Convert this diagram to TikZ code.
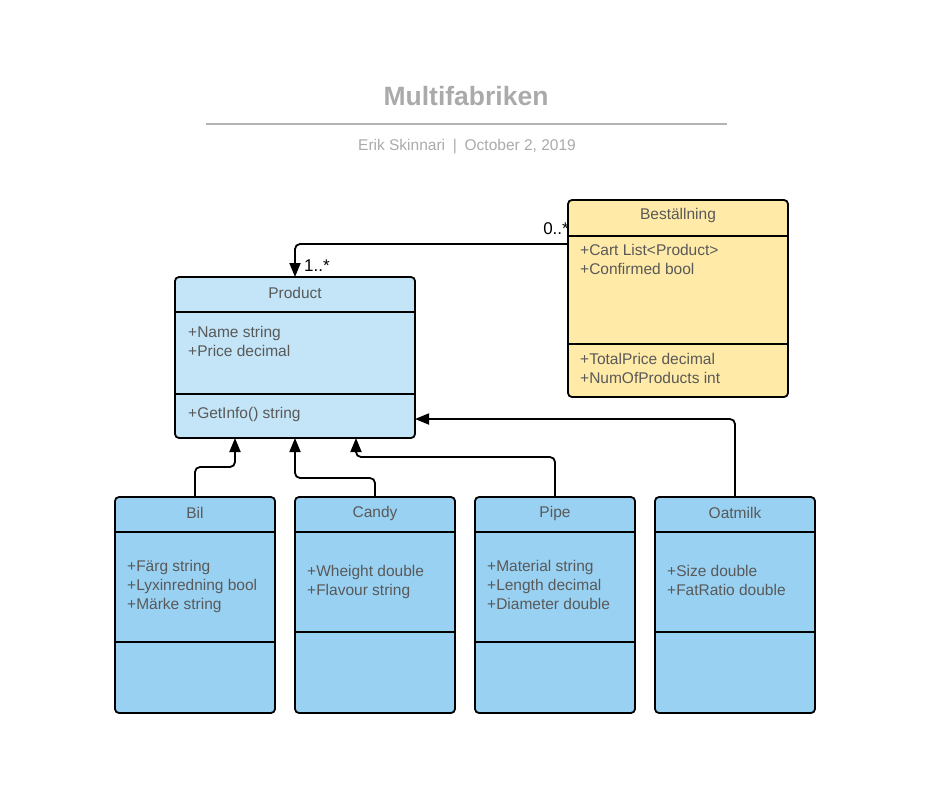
\documentclass[tikz,border=0pt]{standalone}
\usepackage{fontspec}
\setmainfont{Liberation Sans}
\usetikzlibrary{arrows.meta}
\definecolor{prodfill}{RGB}{195,229,247}
\definecolor{subfill}{RGB}{153,209,243}
\definecolor{ordfill}{RGB}{255,234,168}
\definecolor{txt}{RGB}{89,89,89}
\definecolor{titlegray}{RGB}{170,170,170}
\definecolor{rulegray}{RGB}{180,180,180}
\tikzset{
  classbox/.style={draw=black, line width=1.8pt, rounded corners=4pt, inner sep=0pt, outer sep=0pt, anchor=north west},
  divline/.style={draw=black, line width=1.8pt},
  hdr/.style={text=txt, font=\fontsize{15.5}{18}\selectfont, inner sep=0pt},
  attr/.style={text=txt, font=\fontsize{15.5}{18}\selectfont, inner sep=0pt, anchor=base west},
  mult/.style={text=black, font=\fontsize{17}{20}\selectfont, inner sep=0pt},
  conn/.style={draw=black, line width=1.8pt, rounded corners=5pt, -{Triangle[length=14pt,width=11pt]}},
}
\begin{document}
\begin{tikzpicture}[x=1pt,y=-1pt]
\useasboundingbox (0,0) rectangle (942,792);
% title
\node[text=titlegray, font=\bfseries\fontsize{26.5}{30}\selectfont, inner sep=0pt] (title) at (466,96) {Multifabriken};
\coordinate (ruleL) at (206,124);
\coordinate (ruleR) at (727,124);
\draw[rulegray, line width=1.3pt] (ruleL) -- (ruleR);
\node[text=titlegray, font=\fontsize{15.5}{18}\selectfont, inner sep=0pt] (sub) at (467,147) {Erik Skinnari\enspace|\enspace October 2, 2019};

% Product
\node[classbox, fill=prodfill, minimum width=240pt, minimum height=161pt] (product) at (175,277) {};
\draw[divline] (175,312) -- (415,312);
\draw[divline] (175,394) -- (415,394);
\node[hdr] (productT) at (295,293) {Product};
\node[attr] (p1) at (188,337.5) {+Name string};
\node[attr] (p2) at (188,356.5) {+Price decimal};
\node[attr] (p3) at (188,418.5) {+GetInfo() string};

% Bestallning
\node[classbox, fill=ordfill, minimum width=220pt, minimum height=197pt] (best) at (568,200) {};
\draw[divline] (568,236) -- (788,236);
\draw[divline] (568,344) -- (788,344);
\node[hdr] (bestT) at (678,215) {Beställning};
\node[attr] (b1) at (580,255.5) {+Cart List<Product>};
\node[attr] (b2) at (580,274.5) {+Confirmed bool};
\node[attr] (b3) at (580,364.5) {+TotalPrice decimal};
\node[attr] (b4) at (580,383.5) {+NumOfProducts int};

% Bil
\node[classbox, fill=subfill, minimum width=160pt, minimum height=216pt] (bil) at (115,497) {};
\draw[divline] (115,532) -- (275,532);
\draw[divline] (115,642) -- (275,642);
\node[hdr] (bilT) at (195,513) {Bil};
\node[attr] (bi1) at (127,571.5) {+Färg string};
\node[attr] (bi2) at (127,590.5) {+Lyxinredning bool};
\node[attr] (bi3) at (127,609.5) {+Märke string};

% Candy
\node[classbox, fill=subfill, minimum width=160pt, minimum height=216pt] (candy) at (295,497) {};
\draw[divline] (295,532) -- (455,532);
\draw[divline] (295,632) -- (455,632);
\node[hdr] (candyT) at (375,513) {Candy};
\node[attr] (c1) at (307,576.5) {+Wheight double};
\node[attr] (c2) at (307,595.5) {+Flavour string};

% Pipe
\node[classbox, fill=subfill, minimum width=160pt, minimum height=216pt] (pipe) at (475,497) {};
\draw[divline] (475,532) -- (635,532);
\draw[divline] (475,642) -- (635,642);
\node[hdr] (pipeT) at (555,513) {Pipe};
\node[attr] (pi1) at (487,571.5) {+Material string};
\node[attr] (pi2) at (487,590.5) {+Length decimal};
\node[attr] (pi3) at (487,609.5) {+Diameter double};

% Oatmilk
\node[classbox, fill=subfill, minimum width=160pt, minimum height=216pt] (oat) at (655,497) {};
\draw[divline] (655,532) -- (815,532);
\draw[divline] (655,632) -- (815,632);
\node[hdr] (oatT) at (735,513) {Oatmilk};
\node[attr] (o1) at (667,576.5) {+Size double};
\node[attr] (o2) at (667,595.5) {+FatRatio double};

% connectors
\draw[conn] ([yshift=-44pt]best.north west) -| (product.north);
\node[mult, anchor=base west] (m1) at (304,271) {1..*};
\node[mult, anchor=base east] (m2) at (569,234) {0..*};

\draw[conn] (bil.north) -- ++(0,-30) -| ([xshift=-60pt]product.south);
\draw[conn] (candy.north) -- ++(0,-19) -| (product.south);
\draw[conn] (pipe.north) -- ++(0,-40) -| ([xshift=61pt]product.south);
\draw[conn] (oat.north) |- ([yshift=19pt]product.south east);
\end{tikzpicture}
\end{document}
